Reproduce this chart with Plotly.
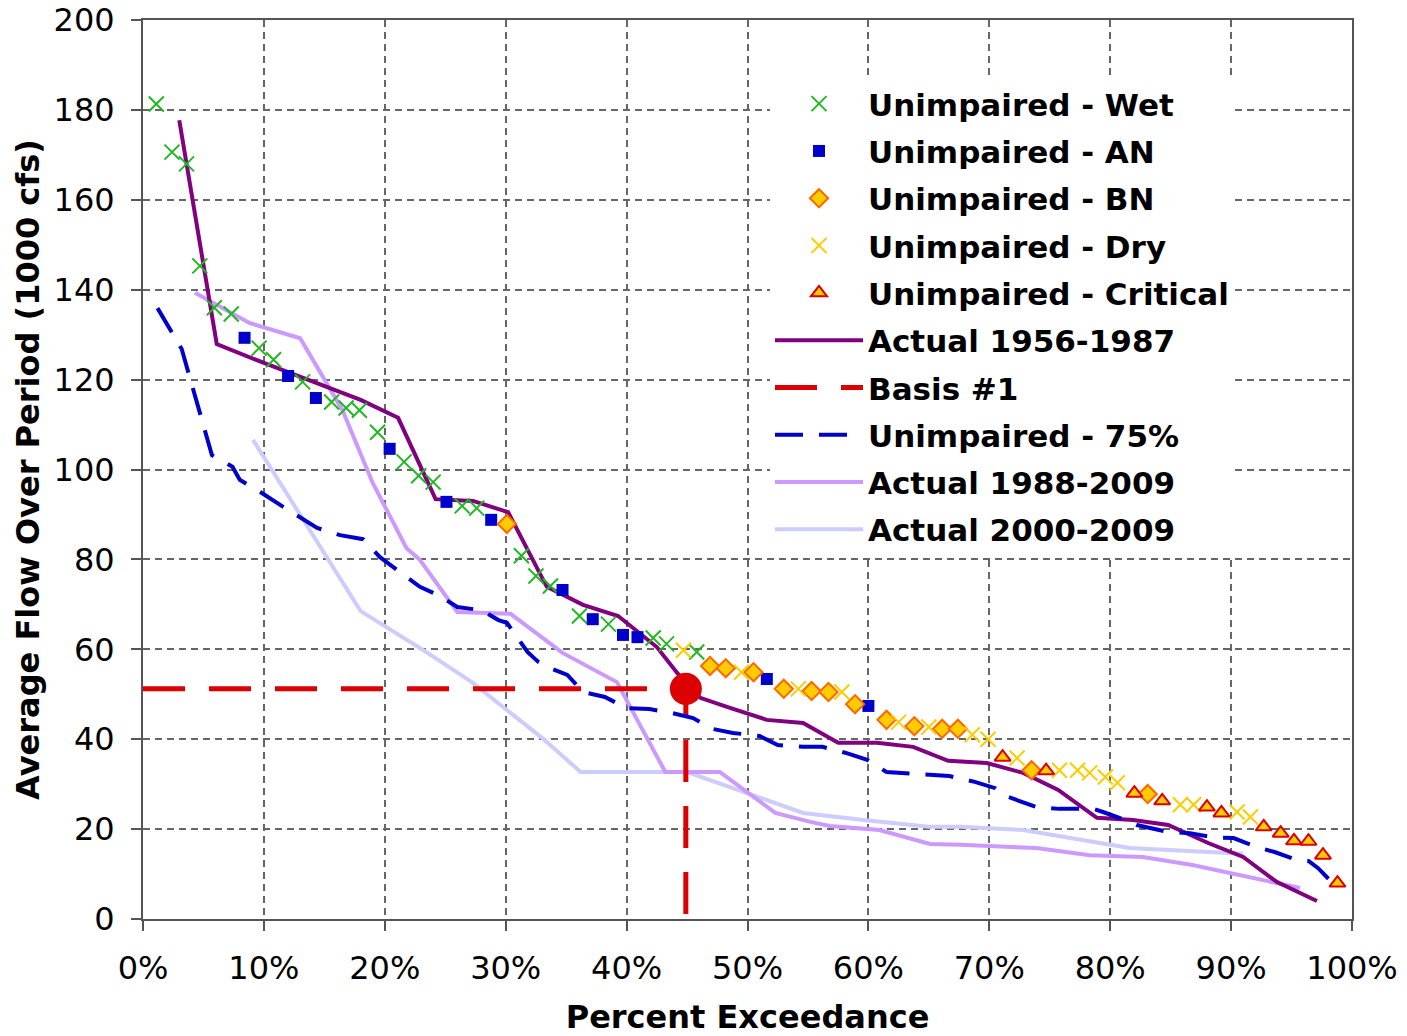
import plotly.graph_objects as go

# ---------------- data ----------------
wet_x = [1.1, 2.4, 3.6, 4.7, 5.9, 7.3, 9.6, 10.8, 13.2, 15.6, 16.8, 17.9, 19.4, 21.6, 22.8, 24.0,
         26.4, 27.6, 31.3, 32.5, 33.7, 36.1, 38.5, 42.2, 43.3, 45.8]
wet_y = [181.3, 170.6, 168.0, 145.3, 136.0, 134.6, 127.0, 124.4, 119.5, 115.0, 113.7, 113.2, 108.3,
         101.7, 98.6, 97.2, 91.9, 91.4, 80.8, 76.3, 74.1, 67.4, 65.6, 62.5, 61.2, 59.4]

an_x = [8.4, 12.0, 14.3, 20.4, 25.1, 28.8, 34.7, 37.2, 39.7, 40.9, 51.6, 60.0]
an_y = [129.3, 120.8, 115.9, 104.6, 92.8, 88.8, 73.2, 66.7, 63.2, 62.7, 53.4, 47.4]

bn_x = [30.1, 46.9, 48.2, 50.5, 53.0, 55.3, 56.7, 58.9, 61.5, 63.8, 66.1, 67.4, 73.5, 83.1]
bn_y = [87.9, 56.3, 55.8, 54.9, 51.2, 50.7, 50.5, 47.8, 44.3, 42.9, 42.3, 42.3, 33.1, 27.8]

dry_x = [44.7, 49.5, 54.2, 57.8, 62.5, 65.0, 68.6, 69.9, 72.3, 75.8, 77.3, 78.3, 79.6, 80.6,
         85.8, 86.9, 90.5, 91.6]
dry_y = [59.8, 54.9, 51.2, 50.5, 43.8, 42.7, 41.0, 40.0, 35.8, 33.1, 33.1, 32.5, 31.6, 30.3,
         25.4, 25.4, 23.8, 22.7]

crit_x = [71.1, 74.7, 82.0, 84.3, 88.0, 89.2, 92.7, 94.1, 95.2, 96.4, 97.6, 98.8]
crit_y = [36.0, 33.0, 28.0, 26.3, 24.9, 23.6, 20.5, 19.1, 17.4, 17.3, 14.2, 8.0]

act5687_x = [3.0, 6.1, 10.0, 15.0, 18.0, 21.1, 24.2, 27.3, 30.2, 33.4, 36.4, 39.3, 42.5, 44.2,
             46.1, 48.3, 51.6, 54.6, 57.5, 60.7, 63.7, 66.6, 69.8, 72.8, 75.7, 78.9, 81.9, 84.8,
             88.1, 91.0, 93.8, 97.1]
act5687_y = [177.7, 127.9, 123.7, 118.6, 115.5, 111.5, 93.4, 93.0, 90.5, 73.9, 69.9, 67.4, 60.5,
             54.7, 49.2, 47.2, 44.3, 43.6, 39.2, 39.2, 38.3, 35.2, 34.7, 32.5, 28.7, 22.5, 22.0,
             20.9, 16.9, 13.8, 8.2, 4.0]

basis_x = [0.0, 44.9, 44.9]
basis_y = [51.2, 51.2, 0.0]
basis_pt_x = [44.9]
basis_pt_y = [51.2]

u75_x = [1.2, 3.2, 5.7, 6.9, 7.4, 8.0, 9.7, 11.6, 14.4, 16.3, 18.2, 19.6, 21.3, 22.9, 24.4, 26.0,
         28.0, 29.4, 30.1, 30.9, 31.8, 32.7, 33.7, 35.1, 36.4, 38.2, 40.0, 41.9, 43.8, 45.5, 47.1,
         48.8, 51.0, 52.5, 54.6, 56.2, 58.2, 59.9, 61.5, 63.7, 66.7, 68.8, 70.5, 71.3, 73.9, 75.8,
         78.6, 79.4, 81.1, 82.2, 84.7, 86.6, 88.5, 90.2, 92.1, 93.6, 95.5, 96.4, 97.2, 98.4, 98.8]
u75_y = [135.9, 126.8, 103.2, 101.4, 100.6, 97.7, 95.0, 91.7, 87.0, 85.4, 84.5, 80.5, 77.2, 73.9,
         72.1, 69.4, 68.7, 66.5, 65.9, 62.7, 59.4, 57.2, 55.8, 54.3, 50.5, 49.4, 46.9, 46.7, 45.8,
         44.7, 42.3, 41.4, 40.7, 38.7, 38.3, 38.3, 36.9, 35.4, 32.7, 32.3, 31.8, 30.5, 29.1, 27.4,
         24.9, 24.5, 24.5, 23.8, 22.2, 20.9, 19.4, 19.1, 18.2, 18.0, 16.0, 14.9, 13.1, 12.9, 11.3,
         8.0, 6.9]

act8809_x = [4.3, 8.8, 13.0, 16.5, 19.0, 21.8, 22.9, 26.0, 30.4, 34.7, 39.2, 43.2, 47.7, 52.3,
             55.2, 56.8, 60.9, 65.1, 67.6, 73.9, 78.3, 82.7, 86.8, 90.5, 95.7]
act8809_y = [139.3, 132.6, 129.2, 113.2, 97.0, 82.5, 79.9, 68.3, 67.9, 59.2, 52.7, 32.7, 32.7, 23.6,
             21.6, 20.7, 19.8, 16.7, 16.5, 15.8, 14.2, 13.8, 12.0, 9.8, 6.9]

act0009_x = [9.1, 15.3, 18.0, 22.9, 27.2, 33.0, 36.2, 45.0, 54.6, 59.6, 65.0, 67.6, 72.8, 81.6, 91.0]
act0009_y = [106.6, 80.3, 68.5, 60.3, 52.7, 40.3, 32.7, 32.7, 23.6, 22.0, 20.5, 20.5, 19.8, 15.8, 14.5]

x_ticks = [0, 10, 20, 30, 40, 50, 60, 70, 80, 90, 100]
x_tick_labels = ["0%", "10%", "20%", "30%", "40%", "50%", "60%", "70%", "80%", "90%", "100%"]
y_ticks = [0, 20, 40, 60, 80, 100, 120, 140, 160, 180, 200]

# ---------------- figure ----------------
fig = go.Figure()

# lines (drawn first)
fig.add_trace(go.Scatter(x=act0009_x, y=act0009_y, mode="lines", name="Actual 2000-2009",
                         line=dict(color="#CCCCFF", width=4), legendrank=10, legendgroup="g10"))
fig.add_trace(go.Scatter(x=act8809_x, y=act8809_y, mode="lines", name="Actual 1988-2009",
                         line=dict(color="#CC99FF", width=4), legendrank=9, legendgroup="g9"))
fig.add_trace(go.Scatter(x=act5687_x, y=act5687_y, mode="lines", name="Actual 1956-1987",
                         line=dict(color="#800080", width=4), legendrank=6, legendgroup="g6"))
fig.add_trace(go.Scatter(x=basis_x, y=basis_y, mode="lines", name="Basis #1",
                         line=dict(color="#DD0000", width=5, dash="42px,24px"),
                         legendrank=7, legendgroup="g7"))
fig.add_trace(go.Scatter(x=basis_pt_x, y=basis_pt_y, mode="markers", showlegend=False,
                         marker=dict(color="#DD0000", size=32, symbol="circle"), legendgroup="g7"))
fig.add_trace(go.Scatter(x=u75_x, y=u75_y, mode="lines", name="Unimpaired - 75%",
                         line=dict(color="#0000CC", width=4, dash="28px,16px"),
                         legendrank=8, legendgroup="g8"))

# markers
fig.add_trace(go.Scatter(x=wet_x, y=wet_y, mode="markers", name="Unimpaired - Wet",
                         marker=dict(symbol="x-thin", size=15, line=dict(color="#22B822", width=2)),
                         legendrank=1, legendgroup="g1"))
fig.add_trace(go.Scatter(x=an_x, y=an_y, mode="markers", name="Unimpaired - AN",
                         marker=dict(symbol="square", size=12, color="#0000CC"),
                         legendrank=2, legendgroup="g2"))
fig.add_trace(go.Scatter(x=bn_x, y=bn_y, mode="markers", name="Unimpaired - BN",
                         marker=dict(symbol="diamond", size=14, color="#FFCC00",
                                     line=dict(color="#FF6600", width=2)),
                         legendrank=3, legendgroup="g3"))
fig.add_trace(go.Scatter(x=dry_x, y=dry_y, mode="markers", name="Unimpaired - Dry",
                         marker=dict(symbol="x-thin", size=15, line=dict(color="#FFCC00", width=2)),
                         legendrank=4, legendgroup="g4"))
fig.add_trace(go.Scatter(x=crit_x, y=crit_y, mode="markers", name="Unimpaired - Critical",
                         marker=dict(symbol="triangle-up", size=14, color="#FFCC00",
                                     line=dict(color="#DD0000", width=2)),
                         legendrank=5, legendgroup="g5"))

axis_common = dict(
    showline=True, linecolor="#555555", linewidth=2, mirror=True,
    showgrid=True, gridcolor="#666666", gridwidth=1.5, griddash="7px,5px",
    ticks="outside", ticklen=10, tickwidth=1.5, tickcolor="#555555",
    zeroline=False, automargin=False, ticklabeloverflow="allow",
    tickfont=dict(family="DejaVu Sans", size=32, color="#000000"),
    title_font=dict(family="DejaVu Sans", size=32, color="#000000", weight="bold"),
)

fig.update_xaxes(range=[0, 100], tickvals=x_ticks, ticktext=x_tick_labels,
                 title_text="Percent Exceedance", title_standoff=24,
                 ticklabelstandoff=10, **axis_common)
fig.update_yaxes(range=[0, 200], tickvals=y_ticks,
                 title_text="Average Flow Over Period (1000 cfs)", title_standoff=4,
                 ticklabelstandoff=10, **axis_common)

# plot area at 143..1352 x 20..919 (page body margin removed below)
fig.update_layout(
    width=1407, height=1036,
    margin=dict(l=143, r=55, t=20, b=117),
    paper_bgcolor="white", plot_bgcolor="white",
    legend=dict(x=(770 - 143) / 1209, y=(919 - 77) / 899, xanchor="left", yanchor="top",
                font=dict(family="DejaVu Sans", size=31, color="#000000", weight="bold"),
                bgcolor="white", tracegroupgap=4, traceorder="grouped", itemwidth=88),
    showlegend=True,
)

fig.write_html("out.html", config={"displayModeBar": False},
               post_script="document.body.style.margin='0';")
